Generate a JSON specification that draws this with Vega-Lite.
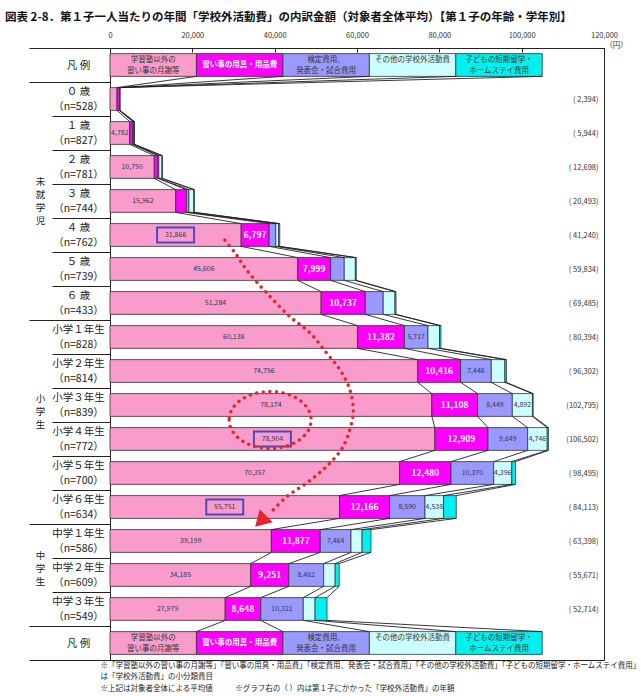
{
  "$schema": "https://vega.github.io/schema/vega-lite/v6.json",
  "width": 494,
  "height": 612,
  "autosize": {"type": "none"},
  "padding": {"left": 110, "top": 48, "right": 37, "bottom": 36},
  "background": "white",
  "title": {
    "text": "図表 2-8．第１子一人当たりの年間「学校外活動費」の内訳金額（対象者全体平均）【第１子の年齢・学年別】",
    "anchor": "start",
    "frame": "group",
    "dx": -105,
    "offset": 8,
    "font": "Noto Sans CJK JP",
    "fontSize": 11.5,
    "fontWeight": "bold",
    "color": "#111"
  },
  "config": {
    "view": {"stroke": "#222", "strokeWidth": 1},
    "font": "Noto Sans CJK JP",
    "axis": {"labelFont": "Noto Sans CJK JP", "titleFont": "Noto Sans CJK JP", "grid": false}
  },
  "datasets": {
    "rows": [
      {"row": "凡 例"},
      {"row": "０ 歳", "n": 528, "total": 2394, "group": "未就学児", "学習塾以外の習い事の月謝等": 1700, "習い事の用具・用品費": 600, "検定費用、発表会・試合費用": 40, "その他の学校外活動費": 40, "子どもの短期留学・ホームステイ費用": 14},
      {"row": "１ 歳", "n": 827, "total": 5944, "group": "未就学児", "学習塾以外の習い事の月謝等": 4782, "習い事の用具・用品費": 700, "検定費用、発表会・試合費用": 300, "その他の学校外活動費": 100, "子どもの短期留学・ホームステイ費用": 62},
      {"row": "２ 歳", "n": 781, "total": 12698, "group": "未就学児", "学習塾以外の習い事の月謝等": 10750, "習い事の用具・用品費": 900, "検定費用、発表会・試合費用": 200, "その他の学校外活動費": 800, "子どもの短期留学・ホームステイ費用": 48},
      {"row": "３ 歳", "n": 744, "total": 20493, "group": "未就学児", "学習塾以外の習い事の月謝等": 15962, "習い事の用具・用品費": 2600, "検定費用、発表会・試合費用": 600, "その他の学校外活動費": 1200, "子どもの短期留学・ホームステイ費用": 131},
      {"row": "４ 歳", "n": 762, "total": 41240, "group": "未就学児", "学習塾以外の習い事の月謝等": 31866, "習い事の用具・用品費": 6797, "検定費用、発表会・試合費用": 1600, "その他の学校外活動費": 700, "子どもの短期留学・ホームステイ費用": 277},
      {"row": "５ 歳", "n": 739, "total": 59834, "group": "未就学児", "学習塾以外の習い事の月謝等": 45606, "習い事の用具・用品費": 7999, "検定費用、発表会・試合費用": 3300, "その他の学校外活動費": 2700, "子どもの短期留学・ホームステイ費用": 229},
      {"row": "６ 歳", "n": 433, "total": 69485, "group": "未就学児", "学習塾以外の習い事の月謝等": 51284, "習い事の用具・用品費": 10737, "検定費用、発表会・試合費用": 4350, "その他の学校外活動費": 2850, "子どもの短期留学・ホームステイ費用": 264},
      {"row": "小学１年生", "n": 828, "total": 80394, "group": "小学生", "学習塾以外の習い事の月謝等": 60138, "習い事の用具・用品費": 11382, "検定費用、発表会・試合費用": 5717, "その他の学校外活動費": 2800, "子どもの短期留学・ホームステイ費用": 357},
      {"row": "小学２年生", "n": 814, "total": 96302, "group": "小学生", "学習塾以外の習い事の月謝等": 74756, "習い事の用具・用品費": 10416, "検定費用、発表会・試合費用": 7446, "その他の学校外活動費": 3300, "子どもの短期留学・ホームステイ費用": 384},
      {"row": "小学３年生", "n": 839, "total": 102795, "group": "小学生", "学習塾以外の習い事の月謝等": 78174, "習い事の用具・用品費": 11108, "検定費用、発表会・試合費用": 8449, "その他の学校外活動費": 4892, "子どもの短期留学・ホームステイ費用": 172},
      {"row": "小学４年生", "n": 772, "total": 106502, "group": "小学生", "学習塾以外の習い事の月謝等": 78904, "習い事の用具・用品費": 12909, "検定費用、発表会・試合費用": 9649, "その他の学校外活動費": 4746, "子どもの短期留学・ホームステイ費用": 294},
      {"row": "小学５年生", "n": 700, "total": 98495, "group": "小学生", "学習塾以外の習い事の月謝等": 70357, "習い事の用具・用品費": 12480, "検定費用、発表会・試合費用": 10370, "その他の学校外活動費": 4396, "子どもの短期留学・ホームステイ費用": 892},
      {"row": "小学６年生", "n": 634, "total": 84113, "group": "小学生", "学習塾以外の習い事の月謝等": 55751, "習い事の用具・用品費": 12166, "検定費用、発表会・試合費用": 8590, "その他の学校外活動費": 4538, "子どもの短期留学・ホームステイ費用": 3068},
      {"row": "中学１年生", "n": 586, "total": 63398, "group": "中学生", "学習塾以外の習い事の月謝等": 39199, "習い事の用具・用品費": 11877, "検定費用、発表会・試合費用": 7464, "その他の学校外活動費": 2700, "子どもの短期留学・ホームステイ費用": 2158},
      {"row": "中学２年生", "n": 609, "total": 55671, "group": "中学生", "学習塾以外の習い事の月謝等": 34185, "習い事の用具・用品費": 9251, "検定費用、発表会・試合費用": 8462, "その他の学校外活動費": 2800, "子どもの短期留学・ホームステイ費用": 973},
      {"row": "中学３年生", "n": 549, "total": 52714, "group": "中学生", "学習塾以外の習い事の月謝等": 27979, "習い事の用具・用品費": 8648, "検定費用、発表会・試合費用": 10321, "その他の学校外活動費": 2866, "子どもの短期留学・ホームステイ費用": 2900},
      {"row": "凡 例"}
    ],
    "arrow": [
      {"yen": 27900, "pos": 5.15},
      {"yen": 30400, "pos": 5.53},
      {"yen": 33200, "pos": 6.03},
      {"yen": 38100, "pos": 6.71},
      {"yen": 43700, "pos": 7.4},
      {"yen": 48600, "pos": 7.88},
      {"yen": 52600, "pos": 8.47},
      {"yen": 55900, "pos": 8.97},
      {"yen": 58300, "pos": 9.56},
      {"yen": 59100, "pos": 10.15},
      {"yen": 58700, "pos": 10.53},
      {"yen": 56600, "pos": 11.23},
      {"yen": 52600, "pos": 11.81},
      {"yen": 47800, "pos": 12.29},
      {"yen": 42900, "pos": 12.7},
      {"yen": 38900, "pos": 13.18}
    ],
    "arrowTip": [{"yen": 36600, "pos": 13.42}],
    "ring": [{"yen": 38900, "pos": 10.44}]
  },
  "resolve": {"scale": {"y": "independent"}, "axis": {"x": "independent", "y": "independent"}},
  "layer": [
    {
      "data": {"name": "rows"},
      "transform": [
        {"window": [{"op": "row_number", "as": "rn"}]},
        {"calculate": "datum.rn - 1", "as": "idx"},
        {"fold": ["学習塾以外の習い事の月謝等", "習い事の用具・用品費", "検定費用、発表会・試合費用", "その他の学校外活動費", "子どもの短期留学・ホームステイ費用"], "as": ["cat", "yen"]},
        {"calculate": "indexof(['学習塾以外の習い事の月謝等', '習い事の用具・用品費', '検定費用、発表会・試合費用', 'その他の学校外活動費', '子どもの短期留学・ホームステイ費用'], datum.cat)", "as": "k"},
        {"calculate": "isValid(datum.n) ? datum.yen : 21000", "as": "w"},
        {"stack": "w", "groupby": ["idx"], "sort": [{"field": "k", "order": "ascending"}], "as": ["x0", "x1"]},
        {"calculate": "datum.idx - 0.335", "as": "yt"},
        {"calculate": "datum.idx + 0.335", "as": "yb"},
        {"calculate": "(datum.x0 + datum.x1) / 2", "as": "xm"}
      ],
      "resolve": {"axis": {"x": "independent", "y": "independent"}},
      "layer": [
        {
          "mark": {"type": "rect", "stroke": "#333", "strokeWidth": 0.8},
          "encoding": {
            "x": {
              "field": "x0", "type": "quantitative",
              "scale": {"domain": [0, 120000], "nice": false},
              "axis": {
                "orient": "top",
                "values": [0, 20000, 40000, 60000, 80000, 100000, 120000],
                "labelExpr": "format(datum.value, ',')",
                "domain": false,
                "tickSize": -4,
                "tickColor": "#222",
                "labelPadding": 13,
                "labelFontSize": 7.5,
                "labelColor": "#333",
                "labelFlush": false,
                "labelOverlap": false,
                "title": "（円）",
                "titleX": 506,
                "titleY": 1,
                "titleAlign": "center",
                "titleBaseline": "bottom",
                "titleFontSize": 7.5,
                "titleFontWeight": "normal",
                "titleColor": "#333"
              }
            },
            "x2": {"field": "x1"},
            "y": {"field": "yt", "type": "quantitative", "scale": {"domain": [-0.5, 17.5], "reverse": true, "nice": false, "zero": false}, "axis": null},
            "y2": {"field": "yb"},
            "color": {
              "field": "cat", "type": "nominal",
              "scale": {
                "domain": ["学習塾以外の習い事の月謝等", "習い事の用具・用品費", "検定費用、発表会・試合費用", "その他の学校外活動費", "子どもの短期留学・ホームステイ費用"],
                "range": ["#f99ccc", "#ff00ff", "#9999ff", "#ccffff", "#00f0f0"]
              },
              "legend": null
            }
          }
        },
        {
          "transform": [
            {"window": [{"op": "lead", "field": "x1", "as": "nx"}, {"op": "lead", "field": "idx", "as": "ni"}], "groupby": ["cat"], "sort": [{"field": "idx", "order": "ascending"}]},
            {"filter": "isValid(datum.nx)"},
            {"calculate": "datum.ni - 0.335", "as": "nyt"}
          ],
          "mark": {"type": "rule", "color": "#222", "strokeWidth": 0.9},
          "encoding": {
            "x": {"field": "x1", "type": "quantitative", "scale": {"domain": [0, 120000], "nice": false}, "axis": null},
            "x2": {"field": "nx"},
            "y": {"field": "yb", "type": "quantitative", "scale": {"domain": [-0.5, 17.5], "reverse": true, "nice": false, "zero": false}, "axis": null},
            "y2": {"field": "nyt"}
          }
        },
        {
          "transform": [{"filter": "isValid(datum.n) && datum.yen >= 4390 && datum.k != 1"}],
          "mark": {"type": "text", "fontSize": 7, "color": "#3b3350", "baseline": "middle"},
          "encoding": {
            "x": {"field": "xm", "type": "quantitative", "scale": {"domain": [0, 120000], "nice": false}, "axis": null},
            "y": {"field": "idx", "type": "quantitative", "scale": {"domain": [-0.5, 17.5], "reverse": true, "nice": false, "zero": false}, "axis": null},
            "text": {"field": "yen", "type": "quantitative", "format": ","}
          }
        },
        {
          "transform": [{"filter": "isValid(datum.n) && datum.yen >= 4390 && datum.k == 1"}],
          "mark": {"type": "text", "fontSize": 8.5, "fontWeight": "bold", "color": "#ffffff", "baseline": "middle"},
          "encoding": {
            "x": {"field": "xm", "type": "quantitative", "scale": {"domain": [0, 120000], "nice": false}, "axis": null},
            "y": {"field": "idx", "type": "quantitative", "scale": {"domain": [-0.5, 17.5], "reverse": true, "nice": false, "zero": false}, "axis": null},
            "text": {"field": "yen", "type": "quantitative", "format": ","}
          }
        },
        {
          "transform": [
            {"filter": "!isValid(datum.n) && datum.k != 1"},
            {"calculate": "['学習塾以外の\\n習い事の月謝等', '', '検定費用、\\n発表会・試合費用', 'その他の学校外活動費', '子どもの短期留学・\\nホームステイ費用'][datum.k]", "as": "legendText"}
          ],
          "mark": {"type": "text", "fontSize": 7.5, "color": "#333", "baseline": "middle", "lineBreak": "\n", "lineHeight": 11},
          "encoding": {
            "x": {"field": "xm", "type": "quantitative", "scale": {"domain": [0, 120000], "nice": false}, "axis": null},
            "y": {"field": "idx", "type": "quantitative", "scale": {"domain": [-0.5, 17.5], "reverse": true, "nice": false, "zero": false}, "axis": null},
            "yOffset": {"value": -5.5},
            "text": {"field": "legendText", "type": "nominal"}
          }
        },
        {
          "transform": [
            {"filter": "!isValid(datum.n) && datum.k == 1"}
          ],
          "mark": {"type": "text", "fontSize": 7.5, "fontWeight": "bold", "color": "#ffffff", "baseline": "middle"},
          "encoding": {
            "x": {"field": "xm", "type": "quantitative", "scale": {"domain": [0, 120000], "nice": false}, "axis": null},
            "y": {"field": "idx", "type": "quantitative", "scale": {"domain": [-0.5, 17.5], "reverse": true, "nice": false, "zero": false}, "axis": null},
            "text": {"field": "cat", "type": "nominal"}
          }
        },
        {
          "transform": [{"filter": "datum.k == 0 && indexof(['４ 歳', '小学４年生', '小学６年生'], datum.row) >= 0"}],
          "mark": {"type": "point", "shape": "M-1,-0.4H1V0.4H-1Z", "size": 1369, "filled": false, "opacity": 1, "stroke": "#4b4bb8", "strokeWidth": 2},
          "encoding": {
            "x": {"field": "xm", "type": "quantitative", "scale": {"domain": [0, 120000], "nice": false}, "axis": null},
            "y": {"field": "idx", "type": "quantitative", "scale": {"domain": [-0.5, 17.5], "reverse": true, "nice": false, "zero": false}, "axis": null}
          }
        },
        {
          "data": {"name": "ring"},
          "mark": {"type": "point", "shape": "M-1,0A1,0.695,0,1,0,1,0A1,0.695,0,1,0,-1,0Z", "size": 6724, "filled": false, "opacity": 1, "stroke": "#e3262b", "strokeWidth": 3.4, "strokeDash": [0.1, 6.5], "strokeCap": "round"},
          "encoding": {
            "x": {"field": "yen", "type": "quantitative", "scale": {"domain": [0, 120000], "nice": false}, "axis": null},
            "y": {"field": "pos", "type": "quantitative", "scale": {"domain": [-0.5, 17.5], "reverse": true, "nice": false, "zero": false}, "axis": null}
          }
        },
        {
          "data": {"name": "arrow"},
          "mark": {"type": "line", "color": "#e3262b", "strokeWidth": 3.4, "strokeDash": [0.1, 6.5], "strokeCap": "round", "interpolate": "catmull-rom"},
          "encoding": {
            "x": {"field": "yen", "type": "quantitative", "scale": {"domain": [0, 120000], "nice": false}, "axis": null},
            "y": {"field": "pos", "type": "quantitative", "scale": {"domain": [-0.5, 17.5], "reverse": true, "nice": false, "zero": false}, "axis": null},
            "order": {"value": null}
          }
        },
        {
          "data": {"name": "arrowTip"},
          "mark": {"type": "point", "shape": "triangle-up", "angle": 225, "size": 330, "filled": true, "opacity": 1, "color": "#e3262b"},
          "encoding": {
            "x": {"field": "yen", "type": "quantitative", "scale": {"domain": [0, 120000], "nice": false}, "axis": null},
            "y": {"field": "pos", "type": "quantitative", "scale": {"domain": [-0.5, 17.5], "reverse": true, "nice": false, "zero": false}, "axis": null}
          }
        },
        {
          "mark": {"type": "point", "opacity": 0},
          "encoding": {
            "x": {
              "field": "xm", "type": "quantitative",
              "scale": {"domain": [0, 120000], "nice": false},
              "axis": {
                "orient": "bottom",
                "domain": false,
                "ticks": false,
                "labels": false,
                "title": [
                  "※「学習塾以外の習い事の月謝等」「習い事の用具・用品費」「検定費用、発表会・試合費用」「その他の学校外活動費」「子どもの短期留学・ホームステイ費用」",
                  "　は「学校外活動費」の小分類費目",
                  "※上記は対象者全体による平均値　　　※グラフ右の（ ）内は第１子にかかった「学校外活動費」の年額"
                ],
                "titleX": -10,
                "titleY": 1,
                "titleAnchor": "start",
                "titleAlign": "left",
                "titleBaseline": "top",
                "titleAngle": 0,
                "titleFontSize": 7.5,
                "titleFontWeight": "normal",
                "titleColor": "#222",
                "titleLineHeight": 11.5,
                "titleLimit": 1000
              }
            },
            "y": {
              "field": "idx", "type": "quantitative",
              "scale": {"domain": [-0.5, 17.5], "reverse": true, "nice": false, "zero": false},
              "axis": {
                "orient": "left",
                "values": [1.5, 2.5, 3.5, 4.5, 5.5, 6.5, 8.5, 9.5, 10.5, 11.5, 12.5, 14.5, 15.5],
                "domain": false,
                "labels": false,
                "ticks": true,
                "tickSize": 58,
                "tickColor": "#222",
                "tickWidth": 1,
                "title": null
              }
            }
          }
        },
        {
          "mark": {"type": "point", "opacity": 0},
          "encoding": {
            "x": {"field": "xm", "type": "quantitative", "scale": {"domain": [0, 120000], "nice": false}, "axis": null},
            "y": {
              "field": "idx", "type": "quantitative",
              "scale": {"domain": [-0.5, 17.5], "reverse": true, "nice": false, "zero": false},
              "axis": {
                "orient": "left",
                "values": [-0.5, 0.5, 7.5, 13.5, 16.5, 17.5],
                "domain": false,
                "labels": false,
                "ticks": true,
                "tickSize": 81,
                "tickColor": "#222",
                "tickWidth": 1,
                "title": null
              }
            }
          }
        }
      ]
    },
    {
      "data": {"name": "rows"},
      "transform": [
        {"window": [{"op": "row_number", "as": "rn"}]},
        {"calculate": "datum.rn - 1", "as": "idx"},
        {"joinaggregate": [{"op": "mean", "field": "idx", "as": "gc"}], "groupby": ["group"]},
        {"calculate": "datum.idx + '#' + (isValid(datum.group) && datum.idx == floor(datum.gc) ? (datum.gc != floor(datum.gc) ? ' ' : '') + datum.group : '') + '#' + (isValid(datum.total) ? '(' + (datum.total < 100000 ? ' ' : '') + format(datum.total, ',') + ')' : '') + '#' + (isValid(datum.n) ? datum.row + '|（n=' + datum.n + '）' : '') + '#' + (isValid(datum.n) ? '' : datum.row)", "as": "lab"}
      ],
      "resolve": {"axis": {"y": "independent"}},
      "layer": [
        {
          "mark": {"type": "point", "opacity": 0},
          "encoding": {
            "y": {
              "field": "lab", "type": "ordinal", "sort": null,
              "scale": {"type": "point", "padding": 0.5},
              "axis": {
                "orient": "left",
                "domain": false,
                "ticks": false,
                "tickSize": 0,
                "labelPadding": 32,
                "labelOffset": -7.5,
                "labelAlign": "center",
                "labelBaseline": "middle",
                "labelFontSize": 10.5,
                "labelLineHeight": 15,
                "labelColor": "#222",
                "labelOverlap": false,
                "labelBound": false,
                "labelLimit": 300,
                "labelExpr": "split(split(datum.label, '#')[3], '|')",
                "title": null
              }
            }
          }
        },
        {
          "mark": {"type": "point", "opacity": 0},
          "encoding": {
            "y": {
              "field": "lab", "type": "ordinal", "sort": null,
              "scale": {"type": "point", "padding": 0.5},
              "axis": {
                "orient": "left",
                "domain": false,
                "ticks": false,
                "tickSize": 0,
                "labelPadding": 32,
                "labelAlign": "center",
                "labelBaseline": "middle",
                "labelFontSize": 10.5,
                "labelColor": "#222",
                "labelOverlap": false,
                "labelBound": false,
                "labelExpr": "split(datum.label, '#')[4]",
                "title": null
              }
            }
          }
        },
        {
          "mark": {"type": "point", "opacity": 0},
          "encoding": {
            "y": {
              "field": "lab", "type": "ordinal", "sort": null,
              "scale": {"type": "point", "padding": 0.5},
              "axis": {
                "orient": "left",
                "domain": false,
                "ticks": false,
                "tickSize": 0,
                "labelPadding": 70,
                "labelOffset": -19.5,
                "labelAlign": "center",
                "labelBaseline": "middle",
                "labelFontSize": 9.5,
                "labelLineHeight": 13,
                "labelColor": "#222",
                "labelOverlap": false,
                "labelBound": false,
                "labelExpr": "split(split(datum.label, '#')[1], '')",
                "title": null
              }
            }
          }
        },
        {
          "mark": {"type": "point", "opacity": 0},
          "encoding": {
            "y": {
              "field": "lab", "type": "ordinal", "sort": null,
              "scale": {"type": "point", "padding": 0.5},
              "axis": {
                "orient": "left",
                "offset": -494,
                "domain": false,
                "ticks": false,
                "tickSize": 0,
                "labelPadding": 6,
                "labelAlign": "right",
                "labelBaseline": "middle",
                "labelFontSize": 7.5,
                "labelColor": "#333",
                "labelOverlap": false,
                "labelBound": false,
                "labelExpr": "split(datum.label, '#')[2]",
                "title": null
              }
            }
          }
        }
      ]
    }
  ]
}
